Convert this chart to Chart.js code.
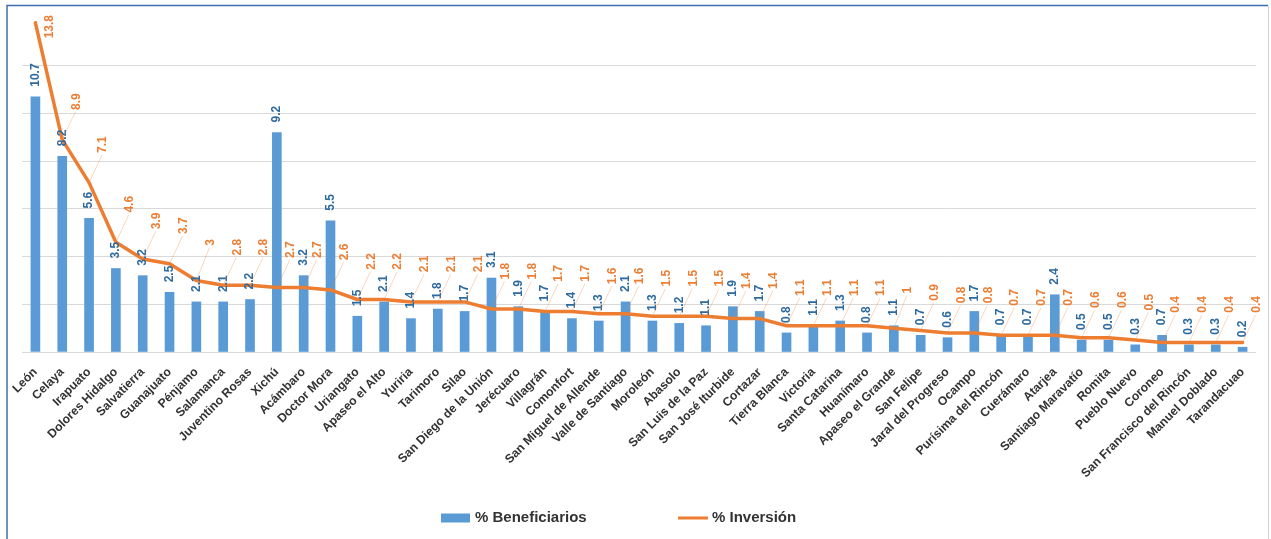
<!DOCTYPE html>
<html>
<head>
<meta charset="utf-8">
<script src="https://cdn.jsdelivr.net/npm/chart.js@4.4.1/dist/chart.umd.min.js"></script>
<style>
  html, body { margin: 0; padding: 0; background: #ffffff; overflow: hidden; }
  #wrap { position: relative; width: 1271px; height: 539px; }
</style>
</head>
<body>
<div id="wrap"><canvas id="c"></canvas></div>
<script>
const categories = [
  "León", "Celaya", "Irapuato", "Dolores Hidalgo", "Salvatierra", "Guanajuato",
  "Pénjamo", "Salamanca", "Juventino Rosas", "Xichú", "Acámbaro", "Doctor Mora",
  "Uriangato", "Apaseo el Alto", "Yuriria", "Tarimoro", "Silao", "San Diego de la Unión",
  "Jerécuaro", "Villagrán", "Comonfort", "San Miguel de Allende", "Valle de Santiago",
  "Moroleón", "Abasolo", "San Luis de la Paz", "San José Iturbide", "Cortazar",
  "Tierra Blanca", "Victoria", "Santa Catarina", "Huanímaro", "Apaseo el Grande",
  "San Felipe", "Jaral del Progreso", "Ocampo", "Purísima del Rincón", "Cuerámaro",
  "Atarjea", "Santiago Maravatío", "Romita", "Pueblo Nuevo", "Coroneo",
  "San Francisco del Rincón", "Manuel Doblado", "Tarandacuao"
];
const beneficiarios = [
  10.7, 8.2, 5.6, 3.5, 3.2, 2.5, 2.1, 2.1, 2.2, 9.2, 3.2, 5.5,
  1.5, 2.1, 1.4, 1.8, 1.7, 3.1, 1.9, 1.7, 1.4, 1.3, 2.1,
  1.3, 1.2, 1.1, 1.9, 1.7, 0.8, 1.1, 1.3, 0.8, 1.1,
  0.7, 0.6, 1.7, 0.7, 0.7, 2.4, 0.5, 0.5, 0.3, 0.7,
  0.3, 0.3, 0.2
];
const inversion = [
  13.8, 8.9, 7.1, 4.6, 3.9, 3.7, 3, 2.8, 2.8, 2.7, 2.7, 2.6,
  2.2, 2.2, 2.1, 2.1, 2.1, 1.8, 1.8, 1.7, 1.7, 1.6, 1.6,
  1.5, 1.5, 1.5, 1.4, 1.4, 1.1, 1.1, 1.1, 1.1, 1,
  0.9, 0.8, 0.8, 0.7, 0.7, 0.7, 0.6, 0.6, 0.5, 0.4,
  0.4, 0.4, 0.4
];
const seriesNames = ["% Beneficiarios", "% Inversión"];
const yMax = 14;
const yStep = 2;

const BLUE = '#5B9BD5';
const BLUE_TXT = '#2C6AA0';
const ORANGE = '#ED7D31';
const FONT = "'Liberation Sans', Arial, sans-serif";

const frame = {
  id: 'frame',
  beforeDraw(chart) {
    const ctx = chart.ctx;
    ctx.save();
    ctx.fillStyle = '#ffffff';
    ctx.fillRect(0, 0, chart.width, chart.height);
    ctx.strokeStyle = '#3E6DAE';
    ctx.lineWidth = 1.5;
    ctx.beginPath();
    ctx.moveTo(7, chart.height + 2);
    ctx.lineTo(7, 5.5);
    ctx.lineTo(1268, 5.5);
    ctx.stroke();
    ctx.strokeStyle = '#d0d0d0';
    ctx.lineWidth = 1;
    ctx.beginPath();
    ctx.moveTo(1268.5, 6);
    ctx.lineTo(1268.5, chart.height);
    ctx.stroke();
    ctx.restore();
  }
};

function drawRotated(ctx, text, x, y, align) {
  ctx.save();
  ctx.translate(x, y);
  ctx.rotate(-Math.PI / 2);
  ctx.textAlign = align;
  ctx.textBaseline = 'middle';
  ctx.fillText(text, 0, 0);
  ctx.restore();
}

const valueLabels = {
  id: 'valueLabels',
  afterDatasetsDraw(chart) {
    const ctx = chart.ctx;
    const area = chart.chartArea;
    ctx.save();
    ctx.font = "bold 12px " + FONT;
    const barMeta = chart.getDatasetMeta(1);
    barMeta.data.forEach((el, i) => {
      ctx.fillStyle = BLUE_TXT;
      drawRotated(ctx, String(beneficiarios[i]), el.x, el.y - 10, 'left');
    });
    const lineMeta = chart.getDatasetMeta(0);
    lineMeta.data.forEach((el, i) => {
      const txt = String(inversion[i]);
      const w = ctx.measureText(txt).width;
      const lx = el.x + 14;
      let cy = el.y - 38;
      if (cy - w / 2 < area.top - 3) cy = area.top - 3 + w / 2;
      const bottom = cy + w / 2;
      if (bottom < el.y - 8) {
        ctx.strokeStyle = 'rgba(237,125,49,0.4)';
        ctx.lineWidth = 0.8;
        ctx.beginPath();
        ctx.moveTo(el.x, el.y);
        ctx.lineTo(lx - 1, bottom + 2);
        ctx.stroke();
      }
      ctx.fillStyle = ORANGE;
      drawRotated(ctx, txt, lx, cy, 'center');
    });
    ctx.restore();
  }
};

const legendDraw = {
  id: 'legendDraw',
  afterDraw(chart) {
    const ctx = chart.ctx;
    ctx.save();
    ctx.font = "bold 15px " + FONT;
    ctx.textBaseline = 'middle';
    ctx.textAlign = 'left';
    const y = 518;
    ctx.fillStyle = BLUE;
    ctx.fillRect(441, 513.5, 29, 9);
    ctx.fillStyle = '#333333';
    ctx.fillText(seriesNames[0], 475, y);
    ctx.strokeStyle = ORANGE;
    ctx.lineWidth = 3;
    ctx.beginPath();
    ctx.moveTo(678, y);
    ctx.lineTo(708, y);
    ctx.stroke();
    ctx.fillStyle = '#333333';
    ctx.fillText(seriesNames[1], 712, y);
    ctx.restore();
  }
};

new Chart(document.getElementById('c'), {
  type: 'bar',
  data: {
    labels: categories,
    datasets: [
      {
        type: 'line',
        label: seriesNames[1],
        data: inversion,
        borderColor: ORANGE,
        backgroundColor: ORANGE,
        borderWidth: 3.5,
        pointRadius: 0,
        tension: 0,
        borderJoinStyle: 'round',
        borderCapStyle: 'round',
        order: 0
      },
      {
        type: 'bar',
        label: seriesNames[0],
        data: beneficiarios,
        backgroundColor: BLUE,
        barThickness: 9,
        order: 1
      }
    ]
  },
  options: {
    responsive: true,
    maintainAspectRatio: false,
    animation: false,
    layout: { padding: { left: 22, right: 15, top: 18, bottom: 0 } },
    plugins: {
      legend: { display: false },
      tooltip: { enabled: false }
    },
    scales: {
      x: {
        offset: true,
        grid: { display: false },
        border: { display: false },
        ticks: {
          autoSkip: false,
          maxRotation: 45,
          minRotation: 45,
          padding: 5,
          color: '#333333',
          font: { family: FONT, size: 12.2, weight: 'bold' }
        },
        afterFit(scale) {
          scale.height = 187;
          scale.paddingLeft = 0;
          scale.paddingRight = 0;
        }
      },
      y: {
        min: 0,
        max: yMax,
        ticks: { display: false, stepSize: yStep },
        border: { display: false },
        grid: {
          drawTicks: false,
          color: (c) => (c.tick && c.tick.value === yMax) ? 'rgba(0,0,0,0)' : '#D9D9D9',
          lineWidth: 1
        },
        afterFit(scale) {
          scale.width = 0;
        }
      }
    }
  },
  plugins: [frame, valueLabels, legendDraw]
});
</script>
</body>
</html>
